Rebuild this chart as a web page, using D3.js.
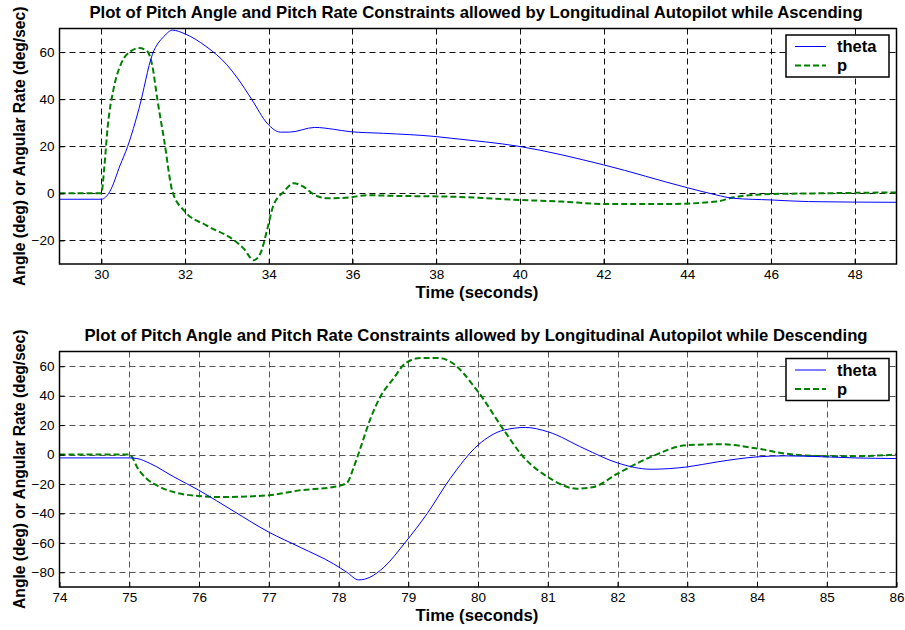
<!DOCTYPE html>
<html>
<head>
<meta charset="utf-8">
<script src="https://cdn.jsdelivr.net/npm/d3@7"></script>
<style>
  body { margin: 0; background: #fff; }
  svg { display: block; font-family: "Liberation Sans", Arial, sans-serif; }
</style>
</head>
<body>
<div id="chart"></div>
<script>
const width = 905;
const height = 630;

// ascending run: [time, value]
const ascTheta = [
  [29, -2.5], [30.0, -2.5], [30.2, 0.7], [30.45, 12], [30.63, 20], [30.9, 36], [31.22, 59],
  [31.5, 66.7], [31.7, 69.3], [32.0, 67.7], [32.5, 62.4], [33.0, 54.6], [33.25, 49],
  [33.6, 39.7], [33.96, 29.8], [34.28, 26], [34.5, 26], [35.1, 28], [35.55, 27.2],
  [35.94, 26.2], [36.74, 25.5], [38.0, 24.1], [38.36, 23.4], [40, 19.9], [42, 12.1],
  [44, 2.4], [44.7, -0.7], [45.1, -2.1], [46, -2.8], [46.9, -3.5], [49, -3.8]
];
const ascP = [
  [29, 0], [30.0, 0], [30.07, 11], [30.15, 28], [30.3, 45], [30.47, 55], [30.7, 60.3],
  [30.9, 61.7], [31.1, 60.3], [31.22, 54], [31.34, 39.7], [31.5, 22.7], [31.7, 0.7],
  [32.0, -7.8], [32.5, -13.5], [33.17, -19.9], [33.4, -23.4], [33.64, -28.4], [33.8, -25.5],
  [33.96, -15.6], [34.1, -5.7], [34.36, 0.7], [34.6, 4.3], [34.83, 2.8], [35.1, -0.7],
  [35.43, -2.1], [35.94, -1.7], [36.34, -0.8], [37.1, -1.1], [38.36, -1.4], [40, -2.8],
  [41, -3.5], [42, -4.5], [43.6, -4.5], [44.7, -3.5], [45.1, -1.7], [46, -0.3],
  [47.1, 0], [49, 0.4]
];

// descending run
const descTheta = [
  [74, -2.3], [75.0, -2.3], [75.11, -2.7], [75.3, -6.1], [75.64, -15.2], [76.0, -24.3],
  [76.5, -38.6], [77.0, -52.7], [77.45, -63], [77.93, -74.3], [78.12, -80], [78.29, -85.2],
  [78.45, -83.4], [78.65, -76.6], [78.96, -59.5], [79.27, -40.2], [79.6, -16.4],
  [80.0, 6.4], [80.37, 16.6], [80.68, 18.4], [81, 15.5], [81.52, 4.1], [82.0, -5.7],
  [82.48, -10], [83, -8.4], [83.43, -5], [84, -1.6], [84.4, -0.9], [85, -1.6],
  [85.4, -2.3], [86, -2.7]
];
const descP = [
  [74, 0], [75.0, 0], [75.04, -1.6], [75.11, -8.4], [75.25, -16.4], [75.44, -22],
  [75.68, -26.1], [76, -28.2], [76.3, -28.9], [77, -27.7], [77.45, -24.3], [77.93, -22],
  [78.12, -19.3], [78.22, -8.4], [78.32, 5.2], [78.45, 23.4], [78.6, 39.3], [78.79, 51.8],
  [78.96, 62], [79.17, 65.5], [79.46, 65.5], [79.6, 63.2], [80.0, 42.7], [80.37, 16.6],
  [80.65, -1.6], [81, -15.2], [81.42, -23.2], [81.66, -22], [82, -13], [82.48, -1.6],
  [83, 6.4], [83.48, 7], [84, 4.1], [84.4, 0.7], [85, -1.1], [85.4, -1.1], [86, 0]
];

const ascXTicks = [30, 32, 34, 36, 38, 40, 42, 44, 46, 48];
const ascYTicks = [-20, 0, 20, 40, 60];
const descXTicks = [74, 75, 76, 77, 78, 79, 80, 81, 82, 83, 84, 85, 86];
const descYTicks = [-80, -60, -40, -20, 0, 20, 40, 60];

const seriesNames = ['theta', 'p'];

const svg = d3.select('#chart').append('svg')
  .attr('width', width)
  .attr('height', height);

function drawPanel(opt) {
  const x = d3.scaleLinear().domain(opt.xDomain).range([59.5, 896.5]);
  const y = d3.scaleLinear().domain(opt.yDomain).range([opt.bottom, opt.top]);
  const g = svg.append('g');

  // grid
  g.append('g')
    .attr('stroke', opt.gridColor)
    .attr('stroke-width', 1)
    .attr('stroke-dasharray', '6,4')
    .selectAll('line.vg')
    .data(opt.xTicks.filter(t => t > opt.xDomain[0] && t < opt.xDomain[1]))
    .join('line')
    .attr('x1', d => Math.round(x(d)) + 0.5).attr('x2', d => Math.round(x(d)) + 0.5)
    .attr('y1', opt.top).attr('y2', opt.bottom);
  g.append('g')
    .attr('stroke', opt.gridColor)
    .attr('stroke-width', 1)
    .attr('stroke-dasharray', '6,4')
    .selectAll('line')
    .data(opt.yTicks)
    .join('line')
    .attr('x1', 59.5).attr('x2', 896.5)
    .attr('y1', d => Math.round(y(d)) + 0.5).attr('y2', d => Math.round(y(d)) + 0.5);

  // lines
  const line = d3.line()
    .x(d => x(d[0]))
    .y(d => y(d[1]))
    .curve(d3.curveMonotoneX);

  const clipId = 'clip' + opt.id;
  g.append('clipPath').attr('id', clipId)
    .append('rect')
    .attr('x', 59.5).attr('y', opt.top)
    .attr('width', 837).attr('height', opt.bottom - opt.top);

  const plot = g.append('g').attr('clip-path', `url(#${clipId})`);
  plot.append('path')
    .datum(opt.p)
    .attr('fill', 'none')
    .attr('stroke', '#008000')
    .attr('stroke-width', 2)
    .attr('stroke-dasharray', '6,3')
    .attr('d', line);
  plot.append('path')
    .datum(opt.theta)
    .attr('fill', 'none')
    .attr('stroke', '#0000ff')
    .attr('stroke-width', 1)
    .attr('d', line);

  // axes
  const xAxis = d3.axisBottom(x).tickValues(opt.xTicks).tickSizeInner(-5).tickSizeOuter(0).tickPadding(5);
  const yAxis = d3.axisLeft(y).tickValues(opt.yTicks).tickSizeInner(-5).tickSizeOuter(0).tickPadding(5);

  const gx = g.append('g')
    .attr('transform', `translate(0,${opt.bottom})`)
    .call(xAxis);
  const gy = g.append('g')
    .attr('transform', 'translate(59.5,0)')
    .call(yAxis);
  [gx, gy].forEach(a => {
    a.select('.domain').remove();
    a.selectAll('line').attr('stroke', '#000');
    a.selectAll('text')
      .attr('fill', '#000')
      .style('font-size', '13.5px')
      .style('font-family', '"Liberation Sans", Arial, sans-serif');
  });

  // frame
  g.append('rect')
    .attr('x', 59.5).attr('y', opt.top)
    .attr('width', 837).attr('height', opt.bottom - opt.top)
    .attr('fill', 'none')
    .attr('stroke', '#000')
    .attr('stroke-width', 1.5);

  // titles
  g.append('text')
    .attr('x', 476).attr('y', opt.top - 11)
    .attr('text-anchor', 'middle')
    .style('font-size', '16.7px')
    .style('font-weight', 'bold')
    .text(opt.title);
  g.append('text')
    .attr('x', 477).attr('y', opt.bottom + 34)
    .attr('text-anchor', 'middle')
    .style('font-size', '16.8px')
    .style('font-weight', 'bold')
    .text('Time (seconds)');
  g.append('text')
    .attr('transform', `translate(25,${(opt.top + opt.bottom) / 2}) rotate(-90)`)
    .attr('text-anchor', 'middle')
    .style('font-size', '15.6px')
    .style('font-weight', 'bold')
    .text('Angle (deg) or Angular Rate (deg/sec)');

  // legend
  const lg = g.append('g').attr('transform', `translate(786,${opt.legendTop})`);
  lg.append('rect')
    .attr('width', 103).attr('height', 42)
    .attr('fill', '#fff')
    .attr('stroke', '#000')
    .attr('stroke-width', 1.5);
  const items = lg.selectAll('g.item')
    .data(seriesNames)
    .join('g')
    .attr('transform', (d, i) => `translate(0,${11.5 + i * 19})`);
  items.append('line')
    .attr('x1', 9).attr('x2', 40)
    .attr('stroke', (d, i) => i === 0 ? '#0000ff' : '#008000')
    .attr('stroke-width', (d, i) => i === 0 ? 1 : 2)
    .attr('stroke-dasharray', (d, i) => i === 0 ? null : '6,3');
  items.append('text')
    .attr('x', 51).attr('y', 5.5)
    .style('font-size', '16.5px')
    .style('font-weight', 'bold')
    .text(d => d);
}

drawPanel({
  id: 1,
  title: 'Plot of Pitch Angle and Pitch Rate Constraints allowed by Longitudinal Autopilot while Ascending',
  xDomain: [29, 49], yDomain: [-30, 70],
  top: 28.5, bottom: 264,
  xTicks: ascXTicks, yTicks: ascYTicks,
  theta: ascTheta, p: ascP,
  gridColor: '#111',
  legendTop: 35
});

drawPanel({
  id: 2,
  title: 'Plot of Pitch Angle and Pitch Rate Constraints allowed by Longitudinal Autopilot while Descending',
  xDomain: [74, 86], yDomain: [-90, 70],
  top: 351.5, bottom: 587,
  xTicks: descXTicks, yTicks: descYTicks,
  theta: descTheta, p: descP,
  gridColor: '#555',
  legendTop: 358.5
});
</script>
</body>
</html>
